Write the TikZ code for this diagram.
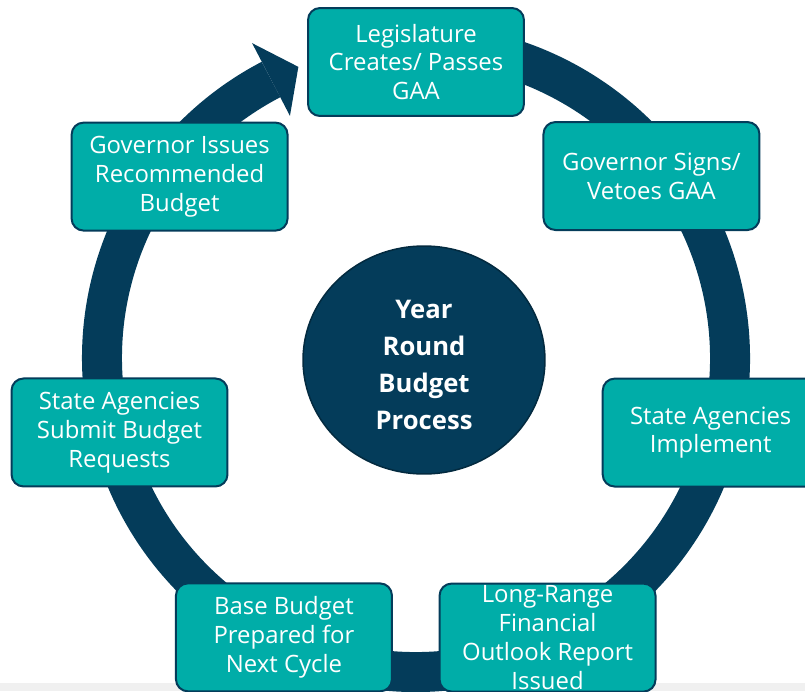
\documentclass[tikz,border=0pt]{standalone}
\usepackage{fontspec}
\setmainfont{Open Sans}
\usetikzlibrary{shapes.geometric}
\definecolor{navy}{RGB}{4,60,90}
\definecolor{teal}{RGB}{0,173,168}
\definecolor{strip}{RGB}{240,240,240}
\tikzset{
  stepbox/.style={draw=navy, line width=0.04cm, fill=teal, text=white,
    rounded corners=0.24cm, minimum width=4.32cm, minimum height=2.16cm,
    align=center, inner sep=0pt, font=\fontsize{13.6}{16.4}\selectfont},
  hub/.style={ellipse, draw=navy!70!black, line width=0.03cm, fill=navy,
    minimum width=4.84cm, minimum height=4.56cm},
  hubtext/.style={text=white, align=center,
    font=\fontsize{14.6}{21}\selectfont\bfseries},
  ring/.style={navy, line width=0.8cm}
}
\begin{document}
\begin{tikzpicture}[x=0.02cm, y=0.02cm]
      \useasboundingbox (-416,-333) rectangle (389,358);
      \fill[strip] (-416,-333) rectangle (389,-325);
      % the cycle
      \draw[ring] (100:314) arc[start angle=100, end angle=-242.5, radius=314];
      \fill[navy] (117.5:355) -- (112:314) -- (117.5:273) -- cycle;
      \node[hub] (0) at (8,-2) {};
      \node[hubtext] (0t) at (8,-7) {Year\\Round\\Budget\\Process};
      \draw
        (90:296) node[stepbox] (1) {Legislature\\Creates/ Passes\\GAA}
        (37.7:297.6) node[stepbox] (2) {Governor Signs/\\Vetoes GAA}
        (-14.2:304) node[stepbox] (3) {State Agencies\\Implement}
        (-64.8:309) node[stepbox] (4) {Long-Range\\Financial\\Outlook Report\\Issued}
        (-115.3:309) node[stepbox] (5) {Base Budget\\Prepared for\\Next Cycle}
        (194.1:305.7) node[stepbox] (6) {State Agencies\\Submit Budget\\Requests}
        (142.5:298) node[stepbox] (7) {Governor Issues\\Recommended\\Budget};
    \end{tikzpicture}
\end{document}
